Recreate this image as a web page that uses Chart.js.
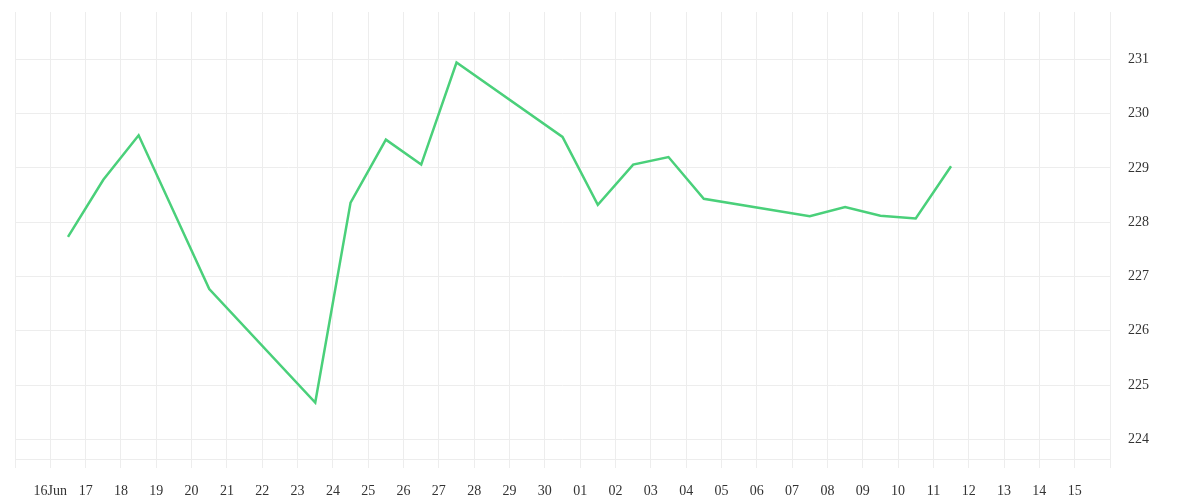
<!DOCTYPE html>
<html>
<head>
<meta charset="utf-8">
<script src="https://cdn.jsdelivr.net/npm/chart.js@4.4.1/dist/chart.umd.min.js"></script>
<style>
  html, body { margin: 0; padding: 0; background: #fff; }
  #wrap { width: 1200px; height: 500px; }
</style>
</head>
<body>
<div id="wrap"><canvas id="priceChart"></canvas></div>
<script>
// datumy (uzavírací body kreslené v poledne) a hodnoty
const dates = [
    '2025-06-16', '2025-06-17', '2025-06-18', '2025-06-20', '2025-06-23',
    '2025-06-24', '2025-06-25', '2025-06-26', '2025-06-27', '2025-06-30',
    '2025-07-01', '2025-07-02', '2025-07-03', '2025-07-04', '2025-07-07',
    '2025-07-08', '2025-07-09', '2025-07-10', '2025-07-11'
];
const values = [
    227.73, 228.78, 229.60, 226.77, 224.68,
    228.36, 229.52, 229.06, 230.94, 229.57,
    228.32, 229.06, 229.20, 228.43, 228.11,
    228.28, 228.12, 228.07, 229.03
];
// popisky osy X: jeden na každý den od 15. 6. do 16. 7.
const tickLabels = [
    '', '16Jun', '17', '18', '19', '20', '21', '22', '23', '24', '25', '26', '27', '28', '29', '30',
    '01', '02', '03', '04', '05', '06', '07', '08', '09', '10', '11', '12', '13', '14', '15', ''
];
const startDate = '2025-06-15';

document.addEventListener("DOMContentLoaded", function() {
    const dayMs = 86400000;
    const start = Date.parse(startDate + 'T00:00:00Z');
    const points = dates.map((d, i) => ({
        x: (Date.parse(d + 'T12:00:00Z') - start) / dayMs,
        y: values[i]
    }));

    const gridColor = '#ededed';
    const font = { family: "'Liberation Serif', 'DejaVu Serif', serif", size: 14 };

    const ctx = document.getElementById('priceChart').getContext('2d');
    new Chart(ctx, {
        type: 'line',
        data: {
            datasets: [{
                data: points,
                borderColor: '#4ad07a',
                borderWidth: 2.5,
                pointRadius: 0,
                tension: 0,
                fill: false
            }]
        },
        options: {
            responsive: true,
            maintainAspectRatio: false,
            animation: false,
            layout: { padding: { left: 15, top: 12, right: 0, bottom: 0 } },
            plugins: { legend: { display: false }, tooltip: { enabled: false } },
            scales: {
                x: {
                    type: 'linear',
                    min: 0,
                    max: tickLabels.length - 1,
                    grid: { color: gridColor, drawTicks: true, tickLength: 9 },
                    border: { display: true, color: gridColor },
                    afterFit: (scale) => {
                        scale.height = 41;
                        scale.paddingLeft = 0;
                        scale.paddingRight = 0;
                    },
                    ticks: {
                        stepSize: 1,
                        autoSkip: false,
                        maxRotation: 0,
                        padding: 15,
                        color: '#333',
                        font: font,
                        callback: (v) => tickLabels[Math.round(v)] ?? ''
                    }
                },
                y: {
                    position: 'right',
                    min: 223.64,
                    max: 231.87,
                    grid: { color: gridColor, drawTicks: false },
                    border: { display: false },
                    afterBuildTicks: (scale) => {
                        scale.ticks = scale.ticks.filter(t => Number.isInteger(t.value));
                    },
                    afterFit: (scale) => {
                        scale.width = 90;
                        scale.paddingTop = 0;
                        scale.paddingBottom = 0;
                    },
                    ticks: {
                        stepSize: 1,
                        padding: 18,
                        color: '#333',
                        font: font
                    }
                }
            }
        }
    });
});
</script>
</body>
</html>
